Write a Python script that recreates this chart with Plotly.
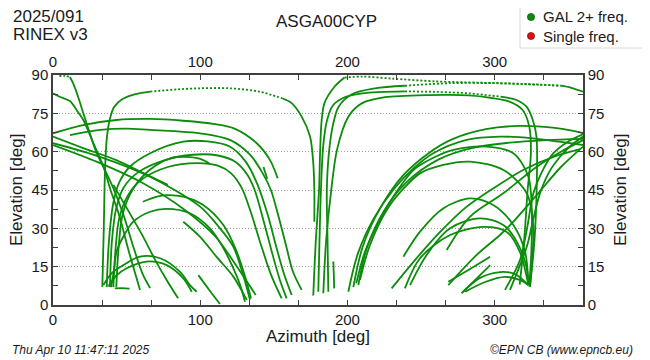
import plotly.graph_objects as go

# ---------------- data: satellite tracks, azimuth [deg] / elevation [deg] ----------------
# left half
A1a_AZ = [33.5, 34.5, 35.3, 36.5, 38.5, 41.5, 47, 56, 66]
A1a_EL = [7, 30, 52, 65, 72.5, 77.5, 80.5, 82.5, 83.5]
A1d_AZ = [66, 85, 100, 120, 140, 156]
A1d_EL = [83.5, 84.4, 84.8, 84.8, 83.5, 80.8]
A1b_AZ = [156, 162.1, 168.9, 174.6, 176.8, 177.5, 177.5]
A1b_EL = [80.8, 79, 73.7, 65.9, 55.4, 45, 32.6]

TAd_AZ = [4.3, 8, 11.5]
TAd_EL = [89.6, 89.7, 89.2]
TA_AZ = [11.5, 13.7, 17.1, 20.6, 25, 29.7, 35.3, 41, 48, 55, 61, 66]
TA_EL = [89.2, 86.7, 81.4, 75, 67.2, 59.4, 52.8, 45.7, 35, 22, 12, 6.6]

TBL_AZ = [0, 4.5, 11.5, 16, 20.6, 27.4, 34.2, 38.7, 45, 51, 56, 59.1]
TBL_EL = [82.8, 81.5, 79.8, 76.3, 72.4, 63.3, 54.2, 45.7, 35, 22, 12, 5.9]

TC_AZ = [41, 50, 60, 70, 78, 85]
TC_EL = [47, 38, 28, 17, 9, 2.6]

H1L_AZ = [0, 20.4, 43, 66, 88.6, 110, 122.5, 138.4, 147.4, 152.6]
H1L_EL = [67.2, 70.4, 72.4, 72.8, 72.1, 70.8, 69.2, 63.3, 56.7, 49.6]
SH_AZ = [143, 145.5]
SH_EL = [54, 49.3]

G1_AZ = [11.5, 31.9, 50, 65.9, 83, 99.9, 120.2, 133.8, 142, 148, 153, 158, 163, 168.9]
G1_EL = [66.5, 68.5, 69, 68.5, 68, 67.2, 64.6, 58.8, 52, 45, 35, 24, 13, 5.9]
G2_AZ = [36.5, 38, 41, 45, 52, 66, 88.5, 105, 120, 131, 139, 146, 152, 157, 162.1]
G2_EL = [7, 25, 40, 48, 54, 59.4, 63.9, 64, 62, 56, 47, 35, 22, 12, 3.9]
G3_AZ = [38.7, 40, 43, 48, 58, 75, 95, 112, 124, 132, 137, 143, 149, 154, 158.7]
G3_EL = [7, 25, 38, 46, 52, 56.5, 58.8, 58.5, 56, 51, 45, 33, 20, 10, 2.6]
G4_AZ = [41, 42.5, 45, 51, 60, 78, 98, 112, 121, 128, 134, 141, 148, 155.3]
G4_EL = [7, 22, 34, 43, 49, 54, 55.5, 54.5, 51.5, 46, 37, 24, 12, 2.6]
R2_AZ = [43, 44.5, 47.5, 55, 66, 80, 90, 100, 106.2]
R2_EL = [7, 22, 36, 46, 53, 57.5, 58, 57.2, 55.4]

M1_AZ = [61, 70, 77, 88.5, 102, 115.7, 124, 130, 134.5]
M1_EL = [40.4, 42.3, 43, 42.4, 39.1, 31.3, 22, 12, 2.6]
M2_AZ = [39.5, 41.5, 43.2, 48, 54.5, 66, 77, 93, 106.6, 115, 122, 127, 130.4]
M2_EL = [7, 14, 20.9, 27, 32.6, 36.5, 37.6, 35.9, 30, 23, 15, 8, 1.3]
M3_AZ = [88.5, 99.9, 111, 122.5, 131.6]
M3_EL = [32.6, 26.7, 18.9, 11.1, 2]

D1_AZ = [0, 20, 43, 60, 78]
D1_EL = [65.9, 61.5, 56.7, 52, 47]
D2_AZ = [0, 31.9, 65.9, 99.9, 112, 122.5, 129, 133.8]
D2_EL = [63.3, 58, 50.2, 38.5, 31, 22.8, 12, 2]
D3_AZ = [0, 30, 60, 90, 110, 125, 137.7]
D3_EL = [62.6, 56, 48, 37, 27, 15, 3.9]

S1_AZ = [34.2, 40, 47.8, 59, 72.7, 86.3, 93, 97.6]
S1_EL = [7.8, 12.5, 15.6, 18.9, 18.3, 13, 7.8, 5.2]
S2_AZ = [37.6, 43, 50, 63.6, 77.2, 88.5, 94.2]
S2_EL = [7.2, 11.5, 14.4, 17, 15.6, 10.4, 5.2]
S3_AZ = [42, 47, 52]
S3_EL = [6.5, 6.6, 6.4]
LD_AZ = [98.7, 106, 113.4]
LD_EL = [11.7, 6, 0.4]

# centre "V" and high passes
C2a_AZ = [176.8, 178.5, 180.7, 181.4, 182.5, 184.4, 191.2, 198]
C2a_EL = [3.9, 25, 45, 59.4, 72.4, 79, 85.4, 89.0]
C2d_AZ = [198, 210, 230, 260, 290, 320, 345]
C2d_EL = [89.0, 89.4, 88.6, 87.5, 87, 86.5, 85.8]
C2b_AZ = [345, 352, 360]
C2b_EL = [85.8, 85, 83.5]

TBa_AZ = [180.2, 181, 182, 183.5, 186, 190, 197, 210, 239]
TBa_EL = [5.2, 25, 45, 62, 72, 78, 81, 82.8, 83.6]
TBd_AZ = [239, 260, 283, 304]
TBd_EL = [83.6, 83.4, 82.8, 81.5]
TBb_AZ = [304, 314.8, 321.6, 325.9, 328.4, 328.5, 327, 324]
TBb_EL = [81.5, 80.2, 77.6, 72.4, 65.9, 45, 25, 7.2]

TCC_AZ = [183.6, 185.5, 189, 193, 200.6, 209.7, 225.5, 239, 270, 292, 310, 319, 323.5, 324.6, 322.4, 320, 317]
TCC_EL = [4.6, 25, 45, 61, 73.7, 78.9, 81.3, 81.8, 82.2, 81.5, 79.6, 76.3, 69.8, 59.4, 45, 25, 8]

TEa_AZ = [187, 186.5, 186, 187.5, 190, 194, 203, 218.7, 239]
TEa_EL = [5.2, 25, 45, 60, 70, 77.6, 82.5, 84.8, 85.8]
TEd_AZ = [239, 270, 300, 330, 345]
TEd_EL = [85.8, 86.8, 86.8, 86.2, 85.8]

SV_AZ = [190.4, 190.8, 191]
SV_EL = [17, 11, 6.5]

# right half
H1R_AZ = [204, 210.3, 221.6, 237.5, 255.6, 271.4, 294, 316.6, 339.3, 357.4, 360]
H1R_EL = [7, 22.7, 37.2, 50.5, 59.6, 64.9, 68.8, 70.1, 69.4, 67.6, 67.2]
RA2_AZ = [200.6, 207, 218, 232, 245, 258, 281, 303.6, 326, 345, 360]
RA2_EL = [5.2, 20, 34, 45.7, 53.5, 59.3, 64.6, 65.9, 65.2, 63.8, 62.6]
RA3_AZ = [207.4, 213, 225, 240, 262, 285, 310, 335, 360]
RA3_EL = [7.8, 22, 37, 48, 57, 61.5, 63.5, 64.5, 65]
RA4_AZ = [206, 212, 222, 233, 244.8, 258, 272, 294.6, 312.7, 322.9, 325.2, 325, 323.5]
RA4_EL = [8.5, 21, 33.3, 44, 52.8, 57.5, 60.7, 62, 59.4, 50.2, 37.2, 22, 7.2]
RA5_AZ = [208.5, 215, 226.7, 238, 249.3, 265, 283.3, 306, 321.8, 326.3, 325.5, 324]
RA5_EL = [9.8, 23, 37.2, 45.5, 51.5, 54.8, 56.1, 52.8, 43.7, 30.6, 18, 7.2]

MA1_AZ = [238, 249.3, 265, 283.3, 299, 312.7, 320.6, 322.9]
MA1_EL = [18.9, 28.7, 37.8, 41.7, 39.1, 31.3, 20.9, 7.8]
MA2_AZ = [242.5, 253.8, 269.7, 290, 305.9, 315, 321.8, 322.9]
MA2_EL = [7.8, 19.6, 30, 33.9, 31.3, 24.8, 14.4, 7.8]
MA3_AZ = [239, 249.3, 269.7, 292.3, 308, 317, 322.9]
MA3_EL = [6.5, 18.3, 27.4, 30.6, 28.7, 20.9, 7.8]

LD0_AZ = [230, 245, 262, 280, 300, 320, 340, 358]
LD0_EL = [6.5, 17, 28, 38, 46, 53, 58, 61]
LD1_AZ = [267.4, 283.3, 305.9, 328.6, 345, 360]
LD1_EL = [21.5, 34.6, 43.7, 54.1, 60, 64.5]
LD2_AZ = [268.5, 287.8, 303.6, 312.7, 330, 345, 360]
LD2_EL = [7.8, 19.6, 27.4, 32.6, 44, 54, 62]

ST1_AZ = [307, 317.2, 322, 326.3, 332, 339.9, 350, 360]
ST1_EL = [5.9, 17.6, 30, 43.7, 52, 59.4, 64, 66.8]
ST2_AZ = [310.4, 321.8, 326, 330.8, 337, 344.4, 352, 360]
ST2_EL = [5.9, 22.8, 33, 43.7, 52, 58, 62.5, 65.9]

SA1_AZ = [277.5, 290, 303.6, 313.8, 322.9]
SA1_EL = [4.6, 10.6, 12.9, 12.1, 7.8]
SA2_AZ = [280, 293.5, 307, 317, 322.9]
SA2_EL = [5.2, 9, 11, 9.8, 7.8]
SR1_AZ = [268.5, 283, 296.9]
SR1_EL = [9.1, 14, 18.9]
SR2_AZ = [278.7, 288, 297]
SR2_EL = [5.2, 10.5, 15.6]

# single-frequency observation
SINGLE_AZ = [176.6, 176.9]
SINGLE_EL = [4.0, 3.8]

X_TICKS_MAJOR = 100
Y_TICKS_MAJOR = 15

SOLID = [
    (A1a_AZ, A1a_EL), (A1b_AZ, A1b_EL), (TA_AZ, TA_EL), (TBL_AZ, TBL_EL), (TC_AZ, TC_EL),
    (H1L_AZ, H1L_EL), (SH_AZ, SH_EL), (G1_AZ, G1_EL), (G2_AZ, G2_EL), (G3_AZ, G3_EL),
    (G4_AZ, G4_EL), (R2_AZ, R2_EL), (M1_AZ, M1_EL), (M2_AZ, M2_EL), (M3_AZ, M3_EL),
    (D1_AZ, D1_EL), (D2_AZ, D2_EL), (D3_AZ, D3_EL), (S1_AZ, S1_EL), (S2_AZ, S2_EL),
    (S3_AZ, S3_EL), (LD_AZ, LD_EL), (C2a_AZ, C2a_EL), (C2b_AZ, C2b_EL),
    (TBa_AZ, TBa_EL), (TBb_AZ, TBb_EL), (TCC_AZ, TCC_EL), (TEa_AZ, TEa_EL), (SV_AZ, SV_EL),
    (H1R_AZ, H1R_EL), (RA2_AZ, RA2_EL), (RA3_AZ, RA3_EL), (RA4_AZ, RA4_EL), (RA5_AZ, RA5_EL),
    (MA1_AZ, MA1_EL), (MA2_AZ, MA2_EL), (MA3_AZ, MA3_EL), (LD0_AZ, LD0_EL), (LD1_AZ, LD1_EL),
    (LD2_AZ, LD2_EL), (ST1_AZ, ST1_EL), (ST2_AZ, ST2_EL), (SA1_AZ, SA1_EL), (SA2_AZ, SA2_EL),
    (SR1_AZ, SR1_EL), (SR2_AZ, SR2_EL),
]
DOTTED = [(A1d_AZ, A1d_EL), (TAd_AZ, TAd_EL), (C2d_AZ, C2d_EL), (TBd_AZ, TBd_EL), (TEd_AZ, TEd_EL)]

GREEN = "#0b8c0b"
RED = "#e01010"
FONT = "Liberation Sans, Arial, sans-serif"
AX = "#404040"

fig = go.Figure()
for az, el in SOLID:
    fig.add_trace(go.Scatter(x=az, y=el, mode="lines", hoverinfo="skip", showlegend=False,
                             line=dict(color=GREEN, width=1.8, shape="spline", smoothing=0.9)))
for az, el in DOTTED:
    fig.add_trace(go.Scatter(x=az, y=el, mode="lines", hoverinfo="skip", showlegend=False,
                             line=dict(color=GREEN, width=1.8, shape="spline", smoothing=0.9, dash="2px,2px")))
fig.add_trace(go.Scatter(x=SINGLE_AZ, y=SINGLE_EL, mode="lines", hoverinfo="skip", showlegend=False,
                         line=dict(color=RED, width=2)))
# dummy trace for the mirrored top/right axes
fig.add_trace(go.Scatter(x=[0], y=[0], xaxis="x2", yaxis="y2", mode="markers",
                         marker=dict(opacity=0), hoverinfo="skip", showlegend=False))

common_x = dict(range=[0, 360], tick0=0, dtick=X_TICKS_MAJOR, ticks="inside", ticklen=5, tickwidth=1,
                tickcolor=AX, showline=True, linecolor=AX, linewidth=1.5, showgrid=False, zeroline=False,
                minor=dict(dtick=X_TICKS_MAJOR / 3, ticks="inside", ticklen=5, tickcolor=AX, showgrid=False),
                tickfont=dict(family=FONT, size=15, color="#1a1a1a"), fixedrange=True, automargin=False)
common_y = dict(range=[0, 90], tick0=0, dtick=Y_TICKS_MAJOR, ticks="inside", ticklen=5, tickwidth=1,
                tickcolor=AX, showline=True, linecolor=AX, linewidth=1.5, zeroline=False,
                minor=dict(dtick=Y_TICKS_MAJOR / 2, ticks="inside", ticklen=5, tickcolor=AX, showgrid=False),
                tickfont=dict(family=FONT, size=15, color="#1a1a1a"), fixedrange=True, automargin=False)

# the page body adds an 8 px offset; compensate so the picture lands where the reference is
OFF = 8
L, R_, T, B = 53 - OFF, 583 - OFF, 75 - OFF, 305 - OFF

fig.update_layout(
    width=650, height=360,
    margin=dict(l=L, r=650 - R_, t=T, b=360 - B, autoexpand=False),
    paper_bgcolor="white", plot_bgcolor="white",
    font=dict(family=FONT, color="#1a1a1a"),
    xaxis=dict(**common_x, side="bottom"),
    xaxis2=dict(**common_x, side="top", overlaying="x", anchor="y"),
    yaxis=dict(**common_y, side="left", showgrid=True, gridcolor="#9a9a9a", gridwidth=1, griddash="1px,2px"),
    yaxis2=dict(**common_y, side="right", overlaying="y", anchor="x", showgrid=False),
    showlegend=False,
)

def px_x(p):
    return (p - 53) / 530.0

def px_y(p):
    return (305 - p) / 230.0

ann = [
    dict(text="ASGA00CYP", x=px_x(326), y=px_y(21), xanchor="center", yanchor="middle", font=dict(size=17)),
    dict(text="2025/091", x=px_x(11), y=px_y(17), xanchor="left", yanchor="middle", font=dict(size=17)),
    dict(text="RINEX v3", x=px_x(11), y=px_y(35), xanchor="left", yanchor="middle", font=dict(size=17)),
    dict(text="Azimuth [deg]", x=0.5, y=px_y(336), xanchor="center", yanchor="middle", font=dict(size=17)),
    dict(text="Elevation [deg]", x=px_x(16), y=0.5, textangle=-90, xanchor="center", yanchor="middle", font=dict(size=17)),
    dict(text="Elevation [deg]", x=px_x(620), y=0.5, textangle=-90, xanchor="center", yanchor="middle", font=dict(size=17)),
    dict(text="<i>Thu Apr 10 11:47:11 2025</i>", x=px_x(10), y=px_y(350), xanchor="left", yanchor="middle", font=dict(size=12)),
    dict(text="<i>©EPN CB (www.epncb.eu)</i>", x=px_x(635), y=px_y(350), xanchor="right", yanchor="middle", font=dict(size=12)),
    dict(text="GAL 2+ freq.", x=px_x(541), y=px_y(17), xanchor="left", yanchor="middle", font=dict(size=15)),
    dict(text="Single freq.", x=px_x(541), y=px_y(36), xanchor="left", yanchor="middle", font=dict(size=15)),
]
for a in ann:
    a.update(xref="paper", yref="paper", showarrow=False)
fig.update_layout(annotations=ann)

r = 3.6
shapes = [
    dict(type="rect", xref="paper", yref="paper", x0=px_x(520), x1=px_x(645), y0=px_y(48), y1=px_y(4),
         line=dict(color="#d8d8d8", width=1), fillcolor="white", layer="above"),
    dict(type="circle", xref="paper", yref="paper", x0=px_x(531 - r), x1=px_x(531 + r),
         y0=px_y(17 + r), y1=px_y(17 - r), line=dict(color="#063f06", width=0.6), fillcolor=GREEN),
    dict(type="circle", xref="paper", yref="paper", x0=px_x(531 - r), x1=px_x(531 + r),
         y0=px_y(36 + r), y1=px_y(36 - r), line=dict(color="#700000", width=0.6), fillcolor=RED),
]
fig.update_layout(shapes=shapes)

fig.write_html("out.html")
